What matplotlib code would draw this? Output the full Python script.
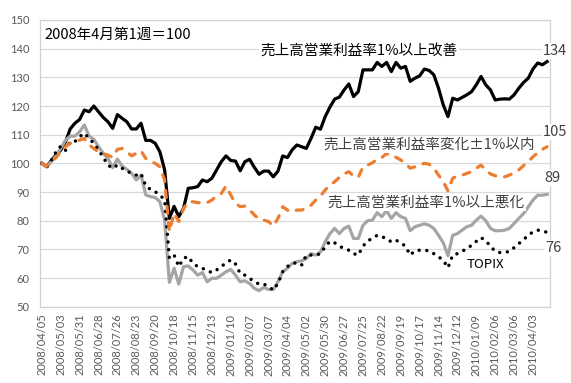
import numpy as np
import matplotlib
matplotlib.use("Agg")
import matplotlib.pyplot as plt

# ---- data (weekly index, 2008/04 first week = 100) ----
improve = [100, 98.8, 101, 103, 104.6, 107.5, 112, 114, 115.3, 118.6,
           118, 120, 118, 116, 114.5, 112.2, 117, 115.7, 114.5, 112,
           112, 114, 108, 108, 107, 104, 97.7, 80.8, 85, 81.4,
           84.3, 91.3, 91.5, 91.9, 94.2, 93.6, 94.8, 97.7, 100.6, 102.6,
           101, 100.8, 97.4, 100.6, 101.4, 98.6, 96.2, 97.3, 97.3, 95.3,
           97.3, 102.6, 102, 104.7, 106.4, 105.8, 105.2, 108.7, 112.6, 111.9,
           116.3, 119.6, 122.4, 123.1, 125.6, 127.7, 123.3, 125, 132.6, 132.6,
           132.6, 135.2, 133.8, 135.2, 132, 135.2, 133.2, 133.8, 128.6, 129.7,
           130.5, 132.9, 132.4, 130.9, 126.2, 120.4, 116.3, 122.7, 122.1, 123,
           123.9, 125, 127.4, 130.3, 127.4, 125.6, 122.1, 122.4, 122.5, 122.4,
           123.9, 126.2, 128.2, 129.7, 132.9, 135, 134.4, 135.5]
stable = [100, 99, 100.6, 102, 104, 105.8, 107, 107.6, 108.1, 108.7,
          106.4, 105.2, 104, 103.3, 102.9, 102.1, 104.9, 105.2, 104, 102.6,
          103.5, 104.4, 101.7, 100.6, 100, 98.8, 94.2, 76.2, 82.6, 79.7,
          84.3, 86.6, 86.6, 86.3, 86.3, 86.3, 87.2, 88.6, 89.5, 92.1,
          89, 86, 84.9, 85.1, 83.7, 82, 80.5, 80.2, 79.7, 78.1,
          80.8, 84.9, 83.7, 83.1, 83.7, 83.7, 84.3, 85.4, 87.2, 88.6,
          90.7, 92.4, 93.6, 95.1, 96.3, 97.1, 95.6, 95.1, 98.8, 99.4,
          100.2, 101.4, 102, 103.5, 102.3, 102.1, 101.2, 100, 98.3, 98.8,
          99.4, 100, 99.7, 98.3, 95.9, 93.6, 90.4, 94.8, 95.6, 95.9,
          96.5, 97.1, 98.3, 99.4, 97.7, 96.3, 95.7, 95.3, 95.3, 95.9,
          96.7, 97.7, 99.2, 100.6, 102.3, 103.7, 104.9, 105.8]
worsen = [100, 98.8, 100.6, 102.6, 105.2, 108.1, 109.5, 109.5, 111, 113.4,
          109.5, 108.4, 105.8, 103.5, 101.7, 98.5, 101.5, 99, 97.9, 96.5,
          94.2, 95.9, 89, 88.4, 88.1, 86.6, 80.2, 58.5, 63.4, 57.9,
          64, 64.2, 62.8, 61, 61.9, 58.7, 59.9, 59.9, 61, 62.2,
          63, 61, 58.7, 59, 58.1, 56.4, 55.6, 56.7, 56, 56,
          58.7, 62.2, 63.4, 65.1, 65.7, 66, 66.8, 68.5, 68, 69.1,
          72.6, 75.5, 77.3, 75.5, 77.3, 78.1, 73.8, 73.8, 78.4, 80,
          80.2, 82.8, 81.4, 83.5, 80.8, 82.8, 81.4, 80.8, 76.5, 77.9,
          78.4, 78.9, 78.4, 77.3, 74.9, 72.3, 67.8, 74.9, 75.5, 76.7,
          77.9, 78.4, 80.2, 81.6, 80, 77.3, 76.5, 76.5, 76.7, 77.3,
          79, 80.8, 82.5, 84.8, 87.2, 88.9, 88.9, 89.2]
topix = [100, 98.6, 101, 104, 106, 104.5, 107.6, 107.6, 109.3, 110.5,
         108.7, 107, 104.7, 102.1, 99.4, 98.3, 99.4, 98.3, 97.3, 96.5,
         95.9, 96.5, 92.1, 90.9, 90.1, 89, 87.2, 66.9, 68, 64,
         66.9, 67.5, 65.1, 64, 63.4, 62.6, 61.9, 62.8, 64, 65.3,
         66.3, 64.9, 61.6, 61, 59.9, 58.7, 57.9, 57.9, 57, 55.8,
         58.1, 62.2, 64, 65.1, 65.3, 64.5, 68, 68, 68, 68.5,
         70.9, 72.8, 72.3, 71.1, 70.3, 69.7, 68.5, 68, 71.1, 73,
         73.8, 74.9, 74.4, 73.8, 72.6, 73.2, 72.3, 71.1, 68, 69.5,
         69.7, 69.7, 69.5, 68.5, 67.4, 66.2, 63.6, 68, 68.5, 69.3,
         70.3, 71.4, 72.8, 74.1, 73, 71.1, 69.3, 68.9, 68.9, 69.3,
         70.6, 72, 73.4, 74.9, 76.1, 76.7, 76.5, 75.9]

tick_labels = ["2008/04/05", "2008/05/03", "2008/05/31", "2008/06/28", "2008/07/26",
               "2008/08/23", "2008/09/20", "2008/10/18", "2008/11/15", "2008/12/13",
               "2009/01/10", "2009/02/07", "2009/03/07", "2009/04/04", "2009/05/02",
               "2009/05/30", "2009/06/27", "2009/07/25", "2009/08/22", "2009/09/19",
               "2009/10/17", "2009/11/14", "2009/12/12", "2010/01/09", "2010/02/06",
               "2010/03/06", "2010/04/03"]

label_improve = "売上高営業利益率1%以上改善"
label_stable = "売上高営業利益率変化±1%以内"
label_worsen = "売上高営業利益率1%以上悪化"
label_topix = "TOPIX"
base_note = "2008年4月第1週＝100"

W, H = 571, 383
fig = plt.figure(figsize=(W / 100, H / 100), dpi=100)
ax = fig.add_axes([39.5 / W, 1 - 306.7 / H, 510 / W, (306.7 - 20) / H])

x = np.arange(len(improve))
ax.plot(x, improve, color="black", lw=2.3, solid_joinstyle="round", zorder=3)
ax.plot(x, worsen, color="#a5a5a5", lw=2.3, solid_joinstyle="round", zorder=3)
ax.plot(x, topix, color="black", lw=2.5, linestyle=(0, (0.01, 2.2)),
        dash_capstyle="round", zorder=3)
ax.plot(x, stable, color="#ed7d31", lw=2.3, linestyle=(0, (2.2, 2.8)),
        dash_capstyle="round", zorder=3)

ax.set_xlim(-0.5, len(improve) - 0.5)
ax.set_ylim(50, 150)
ax.set_yticks(np.arange(50, 151, 10))
ax.set_xticks(np.arange(0, len(tick_labels) * 4, 4))
ax.set_xticklabels(tick_labels, rotation=90)
ax.grid(axis="y", color="#d9d9d9", lw=0.9, zorder=0)
for s in ax.spines.values():
    s.set_color("#d0d0d0")
    s.set_linewidth(0.9)
ax.tick_params(axis="both", length=0, colors="#595959", labelsize=8)
ax.tick_params(axis="y", pad=7)
ax.tick_params(axis="x", pad=5)
for lab in ax.get_xticklabels() + ax.get_yticklabels():
    lab.set_fontfamily(["Lato", "DejaVu Sans"])

jp = ["Noto Sans CJK JP", "DejaVu Sans"]


def ftext(px, py, s, ha="left", color="black", size=10.5):
    fig.text(px / W, 1 - py / H, s, ha=ha, va="center", color=color,
             fontsize=size, family=jp, zorder=5,
             bbox=dict(facecolor="white", edgecolor="none", pad=1.0))


ftext(44, 35, base_note, color="black")
ftext(260, 51, label_improve, color="black")
ftext(323, 145, label_stable, color="#404040")
ftext(327, 203, label_worsen, color="#404040")
ftext(467, 265, label_topix, color="black", size=9.5)
ftext(543, 51, "134", color="#404040")
ftext(543, 132, "105", color="#404040")
ftext(544, 178, "89", color="#404040")
ftext(545, 248, "76", color="#404040")

fig.savefig("out.png", dpi=100)
